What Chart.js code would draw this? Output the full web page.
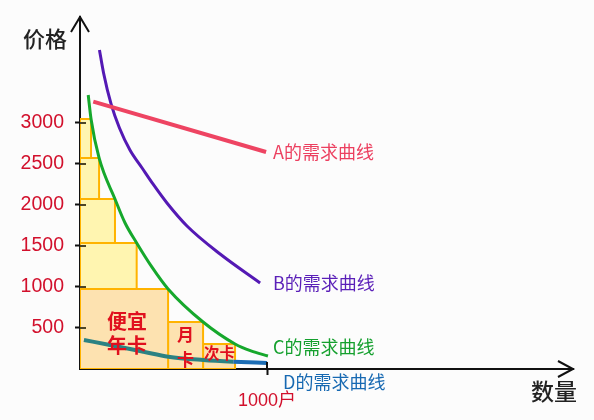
<!DOCTYPE html>
<html><head><meta charset="utf-8">
<script src="https://cdn.jsdelivr.net/npm/chart.js@4.4.1/dist/chart.umd.min.js"></script>
<style>html,body{margin:0;padding:0;background:#fcfcfc;} #wrap{width:594px;height:420px;}</style>
</head><body><div id="wrap"><canvas id="c" width="594" height="420"></canvas></div>
<script>
// ---- data ----
const yTickValues = [500, 1000, 1500, 2000, 2500, 3000];
const yTickLabels = ['500', '1000', '1500', '2000', '2500', '3000'];
const xTickValues = [1000];
const xTickLabels = ['1000户'];

const curveNames = ['A的需求曲线', 'B的需求曲线', 'C的需求曲线', 'D的需求曲线'];
const curveAQty = [71, 995];
const curveAPrice = [3260, 2646];
const curveBQty = [104, 126, 166, 211, 267, 332, 390, 465, 572, 749, 963];
const curveBPrice = [3890, 3610, 3232, 2939, 2671, 2451, 2256, 2024, 1744, 1402, 1049];
const curveCQty = [44, 59, 102, 187, 241, 303, 383, 471, 658, 829, 914, 1005];
const curveCPrice = [3341, 3049, 2573, 2073, 1780, 1537, 1248, 976, 573, 305, 220, 159];
const curveDQty = [21, 160, 339, 472, 659, 820, 1000];
const curveDPrice = [354, 293, 211, 150, 110, 89, 73];

const stepQty = [59, 102, 187, 303];
const stepTop = [3049, 2573, 2073, 1537];
const stepBottom = [2573, 2073, 1537, 976];

const cardNames = ['便宜年卡', '月卡', '次卡'];
const cardQtyFrom = [0, 471, 658];
const cardQtyTo = [471, 658, 829];
const cardPrice = [976, 573, 305];

// ---- build datasets ----
const zip = (xs, ys) => xs.map((x, i) => ({x, y: ys[i]}));
const rect = (x0, x1, y0, y1) => [{x: x0, y: y0}, {x: x1, y: y0}, {x: x1, y: y1}, {x: x0, y: y1}, {x: x0, y: y0}];

const C = {
  A: '#EE4462', B: '#5419B4', Cc: '#16A82C', Dteal: '#2B8283', Dblue: '#1C6DB5',
  At: '#EC3F5F', Bt: '#5A1FB8', Ct: '#15A02E', Dt: '#1769B2',
  stepFill: '#FFF5B0', cardFill: '#FDE2B0', rectBorder: '#FFB300', red: '#D2102C', card: '#E0101E'
};

const datasets = [];
const curve = (label, data, color, width, extra) => Object.assign({
  label, data, showLine: true, borderColor: color, borderWidth: width, pointRadius: 0,
  cubicInterpolationMode: 'monotone', fill: false, order: 1
}, extra || {});

datasets.push(curve(curveNames[0], zip(curveAQty, curveAPrice), C.A, 4, {cubicInterpolationMode: 'default', tension: 0}));
datasets.push(curve(curveNames[1], zip(curveBQty, curveBPrice), C.B, 3));
datasets.push(curve(curveNames[2], zip(curveCQty, curveCPrice), C.Cc, 3));
datasets.push(curve(curveNames[3], zip(curveDQty, curveDPrice), C.Dteal, 4, {
  segment: {borderColor: ctx => ctx.p1.parsed.x <= 820 ? C.Dteal : C.Dblue}
}));

stepQty.forEach((q, i) => {
  datasets.push({label: 'step' + i, data: rect(0, q, stepBottom[i], stepTop[i]), showLine: true,
    fill: 'shape', backgroundColor: C.stepFill, borderColor: C.rectBorder, borderWidth: 2,
    pointRadius: 0, tension: 0, borderJoinStyle: 'miter', order: 2});
});
cardNames.forEach((n, i) => {
  datasets.push({label: n, data: rect(cardQtyFrom[i], cardQtyTo[i], 0, cardPrice[i]), showLine: true,
    fill: 'shape', backgroundColor: C.cardFill, borderColor: C.rectBorder, borderWidth: 2,
    pointRadius: 0, tension: 0, borderJoinStyle: 'miter', order: 2});
});

const CJK = '"Noto Sans CJK SC", sans-serif';

const decor = {
  id: 'decor',
  afterDatasetsDraw(chart) {
    const {ctx, chartArea: a, scales: {x, y}} = chart;
    ctx.save();
    ctx.lineWidth = 2;
    ctx.strokeStyle = '#4d4526';
    yTickValues.forEach(v => {
      const py = Math.round(y.getPixelForValue(v));
      ctx.beginPath(); ctx.moveTo(a.left, py); ctx.lineTo(a.left + 6, py); ctx.stroke();
    });
    ctx.strokeStyle = '#111';
    xTickValues.forEach(v => {
      const px = Math.round(x.getPixelForValue(v));
      ctx.beginPath(); ctx.moveTo(px, a.bottom); ctx.lineTo(px, a.bottom - 7); ctx.stroke();
    });
    ctx.restore();
  },
  afterDraw(chart) {
    const {ctx, chartArea: a} = chart;
    ctx.save();
    ctx.strokeStyle = '#111';
    ctx.lineWidth = 2;
    ctx.beginPath(); ctx.moveTo(a.left - 9, a.top + 15); ctx.lineTo(a.left, a.top); ctx.lineTo(a.left + 9, a.top + 15); ctx.stroke();
    ctx.beginPath(); ctx.moveTo(a.right - 15, a.bottom - 8); ctx.lineTo(a.right, a.bottom); ctx.lineTo(a.right - 15, a.bottom + 8); ctx.stroke();

    const texts = [
      {t: '价格', x: 45, y: 38.5, size: 22, color: '#222', align: 'center', w: '500'},
      {t: '数量', x: 554, y: 391, size: 23, color: '#222', align: 'center', w: '500'},
      {t: curveNames[0], x: 273, y: 152, size: 18, color: C.At},
      {t: curveNames[1], x: 273, y: 283, size: 18, color: C.Bt},
      {t: curveNames[2], x: 273, y: 347, size: 18, color: C.Ct},
      {t: curveNames[3], x: 283, y: 382, size: 18, color: C.Dt},
      {t: '便宜', x: 127, y: 321, size: 20, color: C.card, align: 'center', w: 'bold'},
      {t: '年卡', x: 127, y: 345.5, size: 20, color: C.card, align: 'center', w: 'bold'},
      {t: '月', x: 185.5, y: 335, size: 17, color: C.card, align: 'center', w: 'bold'},
      {t: '卡', x: 185.5, y: 360, size: 17, color: C.card, align: 'center', w: 'bold'},
      {t: '次卡', x: 219.5, y: 353, size: 15.5, color: C.card, align: 'center', w: 'bold'}
    ];
    ctx.textBaseline = 'middle';
    texts.forEach(o => {
      ctx.font = (o.w ? o.w + ' ' : '') + o.size + 'px ' + CJK;
      ctx.fillStyle = o.color;
      ctx.textAlign = o.align || 'left';
      ctx.fillText(o.t, o.x, o.y);
    });
    ctx.restore();
  }
};

new Chart(document.getElementById('c'), {
  type: 'scatter',
  data: {datasets},
  options: {
    responsive: false, animation: false, devicePixelRatio: 1, events: [],
    layout: {padding: {top: 17, right: 21, left: 0, bottom: 0}},
    plugins: {legend: {display: false}, tooltip: {enabled: false}},
    scales: {
      x: {
        type: 'linear', min: 0, max: 2636, z: 1,
        afterBuildTicks: s => { s.ticks = xTickValues.map(v => ({value: v})); },
        afterFit: s => { s.height = 51; s.paddingLeft = 0; s.paddingRight = 0; },
        ticks: {callback: (v, i) => xTickLabels[i], color: C.red, maxRotation: 0,
          font: {size: 18, family: '"Liberation Sans", "Noto Sans CJK SC", sans-serif'}, padding: 15},
        grid: {drawOnChartArea: false, tickLength: 6, tickColor: '#111', tickWidth: 2},
        border: {color: '#111', width: 2}
      },
      y: {
        type: 'linear', min: 0, max: 4292, z: 1,
        afterBuildTicks: s => { s.ticks = yTickValues.map(v => ({value: v})); },
        afterFit: s => { s.width = 80; s.paddingTop = 0; s.paddingBottom = 0; },
        ticks: {callback: (v, i) => yTickLabels[i], color: C.red,
          font: {size: 19.5, family: '"Liberation Sans", Arial, sans-serif'}, padding: 11},
        grid: {drawOnChartArea: false, tickLength: 5, tickColor: '#111', tickWidth: 2},
        border: {color: '#111', width: 2}
      }
    }
  },
  plugins: [decor]
});
</script>
</body></html>
